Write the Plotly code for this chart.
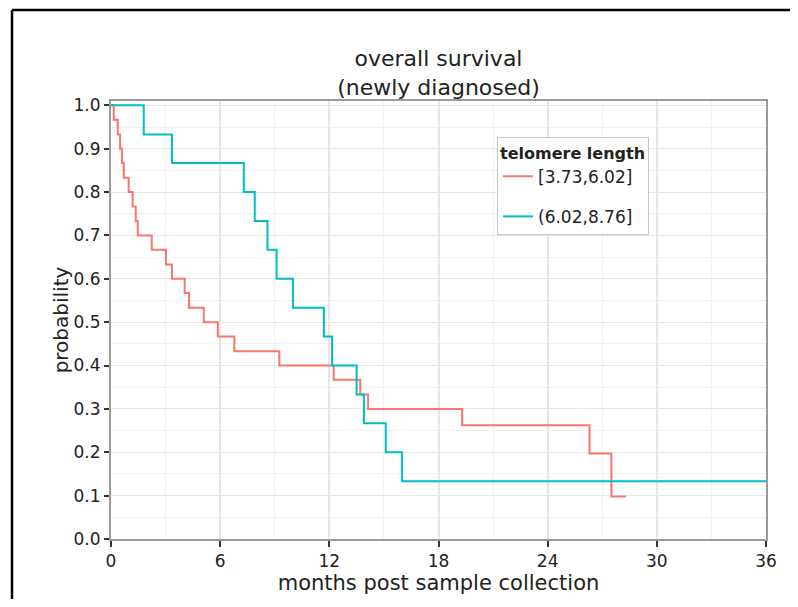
import plotly.graph_objects as go

# ---- data ----
series_names = ["[3.73,6.02]", "(6.02,8.76]"]
series_colors = ["#F8766D", "#00BFC4"]

low_months = [0, 0.15, 0.37, 0.5, 0.6, 0.7, 0.97, 1.19, 1.36, 1.47, 2.24, 3.02, 3.35,
              4.05, 4.29, 5.1, 5.87, 6.78, 9.25, 12.24, 13.7, 14.13, 19.3, 26.3, 27.5, 28.3]
low_surv = [1.0, 0.967, 0.933, 0.9, 0.867, 0.833, 0.8, 0.767, 0.733, 0.7, 0.667, 0.633, 0.6,
            0.567, 0.533, 0.5, 0.467, 0.433, 0.4, 0.367, 0.333, 0.3, 0.2625, 0.197, 0.098, 0.098]

high_months = [0, 1.8, 3.35, 7.3, 7.9, 8.6, 9.1, 10.0, 11.7, 12.15, 13.5, 13.9, 15.1, 16.0, 36]
high_surv = [1.0, 0.933, 0.867, 0.8, 0.733, 0.667, 0.6, 0.533, 0.467, 0.4, 0.333, 0.267, 0.2,
             0.133, 0.133]

x_ticks = [0, 6, 12, 18, 24, 30, 36]
y_ticks = [0.0, 0.1, 0.2, 0.3, 0.4, 0.5, 0.6, 0.7, 0.8, 0.9, 1.0]

FONT = "DejaVu Sans"
W, H = 790, 591  # page body has an 8px margin
L, R, T, B = 103, 32, 93, 60

fig = go.Figure()
for name, color, xs, ys in [
    (series_names[0], series_colors[0], low_months, low_surv),
    (series_names[1], series_colors[1], high_months, high_surv),
]:
    fig.add_trace(go.Scatter(
        x=xs, y=ys, mode="lines", name=name, legendgroup=name,
        line=dict(color=color, width=2, shape="hv"),
    ))

fig.update_layout(
    width=W, height=H,
    margin=dict(l=L, r=R, t=T, b=B),
    paper_bgcolor="white", plot_bgcolor="white",
    font=dict(family=FONT, color="#222", size=16),
    title=dict(
        text="overall survival<br>(newly diagnosed)",
        x=0.5, xref="paper", xanchor="center",
        y=1 - 58 / H, yref="container", yanchor="top",
        font=dict(family=FONT, size=22, color="#222"),
    ),
    legend=dict(
        x=0.0, y=0.918, xanchor="left", yanchor="top",
        bgcolor="white", bordercolor="#c8c8c8", borderwidth=1,
        title=dict(text="telomere length", font=dict(family=FONT, size=16, color="#222", weight="bold")),
        font=dict(family=FONT, size=17, color="#222"),
        tracegroupgap=15,
        itemwidth=30,
    ),
    showlegend=True,
)
fig.update_layout(legend_x=(497 - 8 - L) / (W - L - R))

fig.update_xaxes(
    range=[0, 36], tickvals=x_ticks, ticktext=[str(v) for v in x_ticks],
    ticks="outside", ticklen=6, tickwidth=1.5, tickcolor="#333",
    showline=True, linecolor="#9a9a9a", linewidth=2, mirror=True,
    showgrid=True, gridcolor="#e6e6e6", gridwidth=1.5,
    minor=dict(dtick=3, tick0=0, showgrid=True, gridcolor="#f2f2f2", gridwidth=1, ticks=""),
    tickfont=dict(family=FONT, size=17, color="#222"),
    title=dict(text="months post sample collection", font=dict(family=FONT, size=21, color="#222"), standoff=1),
    zeroline=False,
)
fig.update_yaxes(
    range=[0, 1.01], tickvals=y_ticks, ticktext=[f"{v:.1f}" for v in y_ticks],
    ticks="outside", ticklen=5, tickwidth=1.5, tickcolor="#333",
    showline=True, linecolor="#9a9a9a", linewidth=2, mirror=True,
    showgrid=True, gridcolor="#e6e6e6", gridwidth=1,
    minor=dict(dtick=0.05, tick0=0, showgrid=True, gridcolor="#f0f0f0", gridwidth=1, ticks=""),
    tickfont=dict(family=FONT, size=17, color="#222"),
    title=dict(text="probability", font=dict(family=FONT, size=20, color="#222"), standoff=0),
    zeroline=False,
)

# outer black frame (left and top edges of the figure panel)
pw, ph = W - L - R, H - T - B
fx = (12 - 8 - L) / pw
fy = (H - B - (10 - 8)) / ph
fig.add_shape(type="line", xref="paper", yref="paper", x0=fx, x1=fx, y0=-0.3, y1=fy,
              line=dict(color="black", width=2.5))
fig.add_shape(type="line", xref="paper", yref="paper", x0=fx, x1=1.2, y0=fy, y1=fy,
              line=dict(color="black", width=2.5))

fig.write_html("out.html")
